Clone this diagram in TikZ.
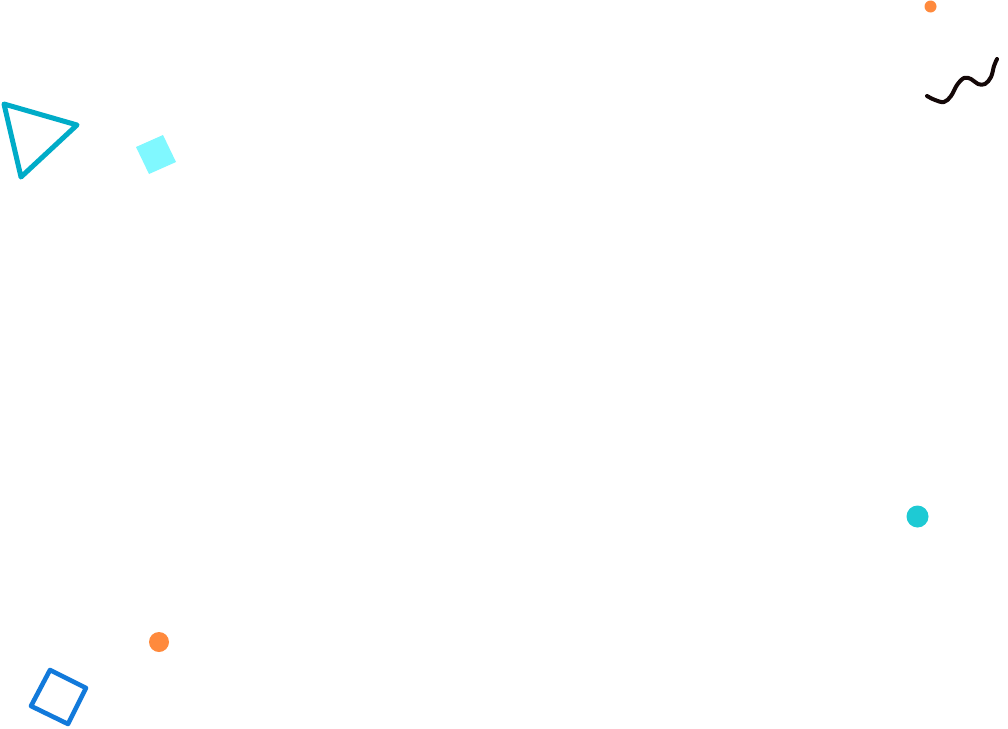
\documentclass[tikz,border=0pt]{standalone}
\definecolor{tricol}{RGB}{0,172,200}
\definecolor{sqfill}{RGB}{128,248,255}
\definecolor{orangedot}{RGB}{255,138,61}
\definecolor{cyandot}{RGB}{30,202,212}
\definecolor{bluesq}{RGB}{18,122,219}
\definecolor{squig}{RGB}{20,8,8}
\tikzset{
  outline/.style={line width=5pt, line join=round, line cap=round},
}
\begin{document}
\begin{tikzpicture}[x=1pt,y=-1pt]
\fill[white] (0,0) rectangle (1008,728);
\useasboundingbox (0,0) rectangle (1008,728);
% triangle
\draw[outline, draw=tricol] (4,104) -- (77,125) -- (21,177) -- cycle;
% filled square
\fill[sqfill] (136,147) -- (163,135) -- (176,162) -- (149,174) -- cycle;
% top orange dot
\fill[orangedot] (930.5,6.5) circle (6);
% squiggle
\draw[squig, line width=4pt, line cap=round, line join=round]
  plot[smooth, tension=0.6] coordinates {(927,96) (935,100) (944,102) (951,96) (957,85) (964,78) (971,79) (978,84) (985,84) (991,77) (994,66) (997,59)};
% cyan dot
\fill[cyandot] (917.5,516.5) circle (11);
% bottom orange dot
\fill[orangedot] (159,642) circle (10);
% blue square outline
\draw[outline, line width=4.6pt, draw=bluesq] (50,670) -- (86,688) -- (68,724) -- (31,706) -- cycle;
\end{tikzpicture}
\end{document}
